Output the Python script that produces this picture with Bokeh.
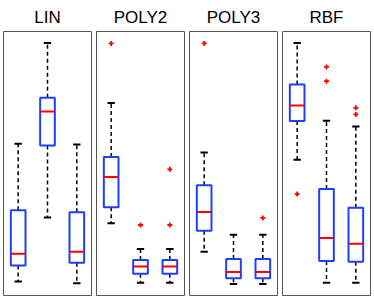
from bokeh.plotting import figure
from bokeh.layouts import row
from bokeh.models import Range1d
from bokeh.embed import file_html
from bokeh.resources import INLINE

titles = ["LIN", "POLY2", "POLY3", "RBF"]
groups = [1, 2, 3]
upper_whisker = [[57.5, 95.6, 57.2], [72.9, 17.6, 17.6], [54.2, 23.0, 23.0], [95.6, 66.2, 64.0]]
q3 = [[32.3, 74.9, 31.5], [52.5, 13.4, 13.4], [41.8, 13.8, 13.8], [79.9, 40.3, 33.2]]
median = [[15.8, 69.7, 16.6], [44.9, 11.0, 11.0], [31.6, 8.9, 8.9], [72.0, 21.8, 19.6]]
q1 = [[11.4, 56.8, 12.4], [33.4, 8.2, 8.2], [24.5, 6.5, 6.5], [66.1, 13.1, 12.8]]
lower_whisker = [[5.3, 29.5, 4.6], [27.4, 4.8, 4.8], [16.6, 4.4, 4.4], [51.4, 4.8, 4.8]]
outlier_group = [[], [1, 2, 3, 3], [1, 3], [1, 2, 2, 3, 3]]
outlier_value = [[], [95.5, 26.7, 47.8, 26.7], [95.5, 29.4], [38.4, 86.6, 81.2, 71.1, 68.6]]

BOX_W = 0.5
CAP_W = 0.25

figs = []
for i, t in enumerate(titles):
    p = figure(width=93, height=298, output_backend="svg", toolbar_location=None,
               x_range=Range1d(0.5, 3.5), y_range=Range1d(0, 100),
               x_axis_location=None, y_axis_location=None,
               min_border_left=3, min_border_right=2, min_border_top=0, min_border_bottom=3,
               title=t)
    p.title.align = "center"
    p.title.text_font = "Liberation Sans"
    p.title.text_font_size = "17px"
    p.title.text_font_style = "normal"
    p.title.text_color = "black"
    p.grid.visible = False
    p.outline_line_color = "#555555"
    p.outline_line_width = 1
    p.background_fill_color = "white"
    p.border_fill_color = "white"

    xs = groups
    # whiskers
    p.segment(x0=xs, y0=q3[i], x1=xs, y1=upper_whisker[i], line_color="black",
              line_width=1.5, line_dash="4 3")
    p.segment(x0=xs, y0=q1[i], x1=xs, y1=lower_whisker[i], line_color="black",
              line_width=1.5, line_dash="4 3")
    # caps
    p.segment(x0=[x - CAP_W / 2 for x in xs], y0=upper_whisker[i],
              x1=[x + CAP_W / 2 for x in xs], y1=upper_whisker[i], line_color="black", line_width=2)
    p.segment(x0=[x - CAP_W / 2 for x in xs], y0=lower_whisker[i],
              x1=[x + CAP_W / 2 for x in xs], y1=lower_whisker[i], line_color="black", line_width=2)
    # boxes
    p.quad(left=[x - BOX_W / 2 for x in xs], right=[x + BOX_W / 2 for x in xs],
           bottom=q1[i], top=q3[i], fill_color=None, line_color="#1f3fff", line_width=2)
    # medians
    p.segment(x0=[x - BOX_W / 2 for x in xs], y0=median[i],
              x1=[x + BOX_W / 2 for x in xs], y1=median[i], line_color="red", line_width=2)
    # outliers
    if outlier_group[i]:
        p.scatter(x=outlier_group[i], y=outlier_value[i], marker="cross", size=5,
                  line_color="red", line_width=1.8)
    figs.append(p)

layout = row(*figs, spacing=0)
open("out.html", "w").write(file_html(layout, INLINE))
